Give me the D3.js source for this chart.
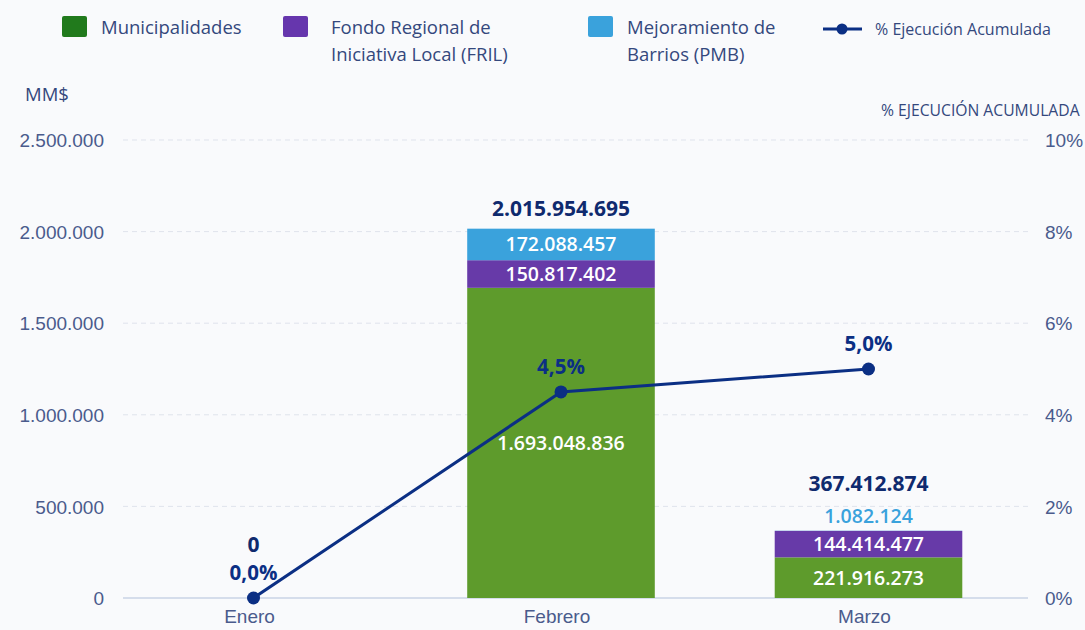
<!DOCTYPE html>
<html>
<head>
<meta charset="utf-8">
<script src="https://cdn.jsdelivr.net/npm/d3@7"></script>
<style>
  html, body { margin: 0; padding: 0; background: #f9fafc; }
  svg { display: block; font-family: "Open Sans", "Noto Sans", sans-serif; }
</style>
</head>
<body>
<svg id="chart" width="1085" height="630"></svg>
<script>
// Monthly data (pesos)
const months = ["Enero", "Febrero", "Marzo"];
const municipalidades = [0, 1693048836, 221916273];
const fril = [0, 150817402, 144414477];
const pmb = [0, 172088457, 1082124];
const totals = [0, 2015954695, 367412874];
const ejecucion = [0.0, 4.5, 5.0];

const leftTicks = [0, 500000000, 1000000000, 1500000000, 2000000000, 2500000000];
const rightTicks = [0, 2, 4, 6, 8, 10];

const seriesNames = ["Municipalidades", "Fondo Regional de\nIniciativa Local (FRIL)", "Mejoramiento de\nBarrios (PMB)"];
const barColors = ["#5e9b2c", "#673aa8", "#3aa2dc"];
const legendColors = ["#217a1c", "#6636ad", "#3aa2dc"];
const navy = "#0b2f84";
const axisText = "#4a5b8c";
const titleText = "#34487d";

const es = d3.formatLocale({ decimal: ",", thousands: ".", grouping: [3], currency: ["$", ""] });
const fmtInt = es.format(",.0f");
const fmtPct = es.format(",.1f");

const svg = d3.select("#chart");
const plot = { left: 123, right: 1028, top: 140, bottom: 598 };

const x = d3.scaleBand().domain(months).range([99.75, 1022.25]).paddingInner(0.39).paddingOuter(0.195);
const yL = d3.scaleLinear().domain([0, 2500000000]).range([plot.bottom, plot.top]);
const yR = d3.scaleLinear().domain([0, 10]).range([plot.bottom, plot.top]);

// Gridlines
svg.append("g").selectAll("line").data(leftTicks.slice(1)).join("line")
  .attr("x1", plot.left).attr("x2", plot.right)
  .attr("y1", d => yL(d)).attr("y2", d => yL(d))
  .attr("stroke", "#dfe3ec").attr("stroke-width", 1).attr("stroke-dasharray", "5,4");
svg.append("line")
  .attr("x1", plot.left).attr("x2", plot.right)
  .attr("y1", yL(0)).attr("y2", yL(0))
  .attr("stroke", "#c9d3e6").attr("stroke-width", 1.5);

// Left axis (MM$, shown in thousands)
const leftAxis = d3.axisLeft(yL).tickValues(leftTicks).tickSize(0).tickPadding(0)
  .tickFormat(d => fmtInt(d / 1000));
const gl = svg.append("g").attr("transform", "translate(104,0)").call(leftAxis);
gl.select(".domain").remove();
gl.selectAll("text").attr("fill", axisText).attr("font-size", 19).attr("dy", "0.35em");

// Right axis (percent)
const rightAxis = d3.axisRight(yR).tickValues(rightTicks).tickSize(0).tickPadding(0)
  .tickFormat(d => d + "%");
const gr = svg.append("g").attr("transform", "translate(1045,0)").call(rightAxis);
gr.select(".domain").remove();
gr.selectAll("text").attr("fill", axisText).attr("font-size", 19).attr("dy", "0.35em");

// Month labels
const bx = d3.axisBottom(x).tickSize(0).tickPadding(0);
const gb = svg.append("g").attr("transform", "translate(-4,623)").call(bx);
gb.select(".domain").remove();
gb.selectAll("text").attr("fill", axisText).attr("font-size", 19).attr("dy", "0");

// Axis titles
svg.append("text").attr("x", 25).attr("y", 101).text("MM$")
  .attr("fill", titleText).attr("font-size", 18.5);
svg.append("text").attr("x", 881).attr("y", 116).text("% EJECUCIÓN ACUMULADA")
  .attr("fill", titleText).attr("font-size", 15.7);

// Stacked bars
const rows = months.map((m, i) => ({ month: m, mun: municipalidades[i], fril: fril[i], pmb: pmb[i] }));
const keys = ["mun", "fril", "pmb"];
const stacked = d3.stack().keys(keys)(rows);

const layers = svg.append("g").selectAll("g").data(stacked).join("g")
  .attr("fill", (d, i) => barColors[i]);
layers.selectAll("rect").data(d => d.filter(s => s[1] - s[0] > 0)).join("rect")
  .attr("x", d => x(d.data.month))
  .attr("width", x.bandwidth())
  .attr("y", d => yL(d[1]))
  .attr("height", d => yL(d[0]) - yL(d[1]));

// Segment value labels (thin segments get their label just above the bar)
stacked.forEach((layer, li) => {
  layer.forEach(s => {
    const v = s[1] - s[0];
    if (v <= 0) return;
    const h = yL(s[0]) - yL(s[1]);
    let cy = (yL(s[0]) + yL(s[1])) / 2;
    let fill = "#ffffff";
    if (h < 20) { cy = yL(s[1]) - 15; fill = barColors[li]; }
    svg.append("text")
      .attr("x", x(s.data.month) + x.bandwidth() / 2)
      .attr("y", cy).attr("dy", "0.36em")
      .attr("text-anchor", "middle")
      .attr("fill", fill).attr("font-size", 19.5).attr("font-weight", 600)
      .text(fmtInt(v));
  });
});

// Totals above bars
const totalOffset = [46, 13, 40];
svg.append("g").selectAll("text").data(months).join("text")
  .attr("x", d => x(d) + x.bandwidth() / 2)
  .attr("y", (d, i) => yL(totals[i]) - totalOffset[i])
  .attr("text-anchor", "middle")
  .attr("fill", "#0f2a6e").attr("font-size", 21).attr("font-weight", 700)
  .text((d, i) => fmtInt(totals[i]));

// Execution line
const cx = d => x(d) + x.bandwidth() / 2;
const line = d3.line().x((d, i) => cx(months[i])).y(d => yR(d));
svg.append("path").datum(ejecucion).attr("d", line)
  .attr("fill", "none").attr("stroke", navy).attr("stroke-width", 3);
svg.append("g").selectAll("circle").data(ejecucion).join("circle")
  .attr("cx", (d, i) => cx(months[i])).attr("cy", d => yR(d)).attr("r", 6.5)
  .attr("fill", navy);
svg.append("g").selectAll("text").data(ejecucion).join("text")
  .attr("x", (d, i) => cx(months[i]))
  .attr("y", d => yR(d) - 18)
  .attr("text-anchor", "middle")
  .attr("fill", navy).attr("font-size", 20.5).attr("font-weight", 700)
  .text(d => fmtPct(d) + "%");

// Legend
const legendX = [62, 283, 588];
const legendTextX = [101, 331, 627];
seriesNames.forEach((name, i) => {
  const g = svg.append("g");
  g.append("rect").attr("x", legendX[i]).attr("y", 16).attr("width", 25).attr("height", 21).attr("rx", 2)
    .attr("fill", legendColors[i]);
  const t = g.append("text").attr("x", legendTextX[i]).attr("y", 34)
    .attr("fill", titleText).attr("font-size", 18.5);
  name.split("\n").forEach((ln, j) => {
    t.append("tspan").attr("x", legendTextX[i]).attr("dy", j === 0 ? 0 : 27).text(ln);
  });
});
const lg = svg.append("g");
lg.append("line").attr("x1", 823).attr("x2", 862).attr("y1", 29).attr("y2", 29)
  .attr("stroke", navy).attr("stroke-width", 3);
lg.append("circle").attr("cx", 842).attr("cy", 29).attr("r", 5.5).attr("fill", navy);
lg.append("text").attr("x", 875).attr("y", 35).attr("fill", titleText).attr("font-size", 16)
  .text("% Ejecución Acumulada");
</script>
</body>
</html>
